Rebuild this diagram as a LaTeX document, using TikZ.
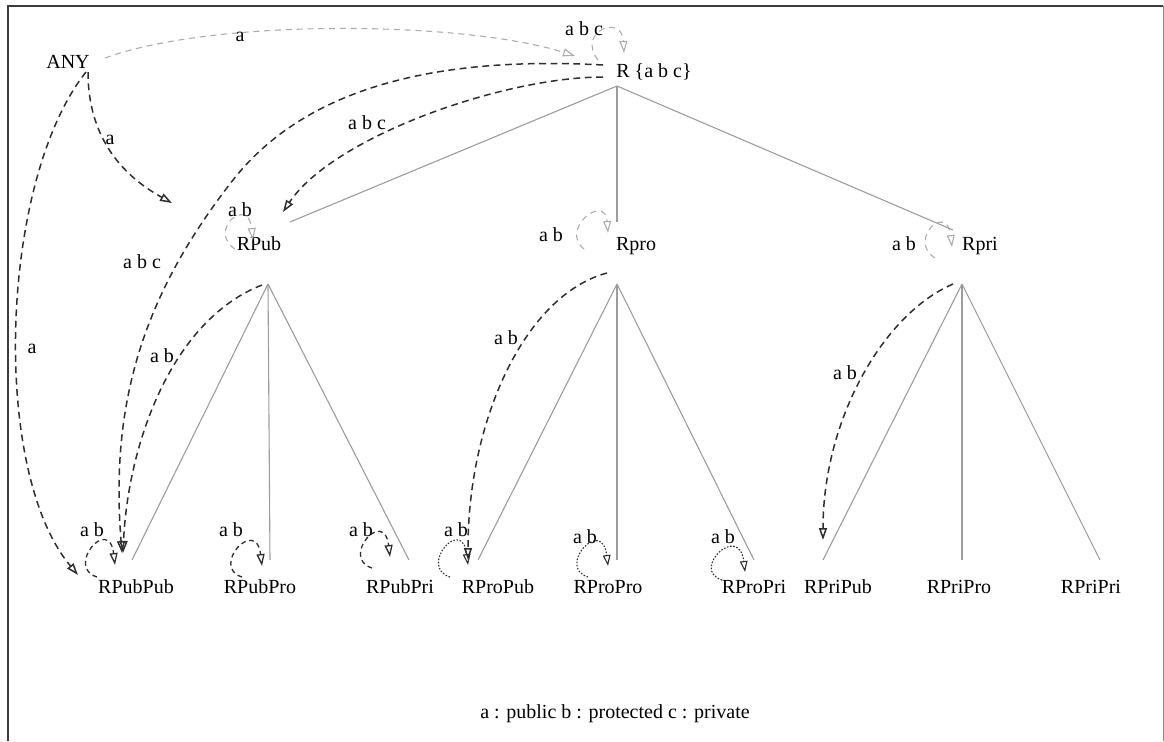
\documentclass[tikz,border=0pt]{standalone}
\usepackage{fontspec}
\setmainfont{Liberation Serif}
\usetikzlibrary{arrows.meta,calc}
\definecolor{Ink}{HTML}{2E2E2E}
\definecolor{Branch}{HTML}{9C9C9C}
\definecolor{Faint}{HTML}{ACACAC}
\definecolor{Frame}{HTML}{3C3C3C}
\definecolor{FrameSoft}{HTML}{8E8E8E}
\tikzset{
  cls/.style={inner sep=1pt,text height=1.6ex,text depth=.35ex,font=\fontsize{10}{12}\selectfont},
  lbl/.style={inner sep=0pt,font=\fontsize{10}{12}\selectfont},
  branch/.style={draw=Branch,line width=.55pt},
  inh/.style={-{Triangle[open,length=6pt,width=4pt]},draw=Ink,line width=.75pt,dash pattern=on 3.4pt off 2.3pt},
  inhsoft/.style={-{Triangle[open,length=6pt,width=4pt]},draw=Faint,line width=.55pt,dash pattern=on 3pt off 2.4pt},
  selfd/.style={inh,line width=.65pt,dash pattern=on 2.4pt off 1.8pt},
  selfp/.style={-{Triangle[open,length=5.5pt,width=3.8pt]},draw=Ink,line width=.55pt,dash pattern=on .8pt off .8pt}
}
\begin{document}
\begin{tikzpicture}[x=.5pt,y=-.5pt]
  \useasboundingbox (0,0) rectangle (1164,741);
  \draw[Frame,line width=1pt] (8,741) -- (8,6) -- (1163,6);
  \draw[FrameSoft,line width=.5pt] (1163,6) -- (1163,741);

  % classes
  \node[cls] (ANY) at (68,63) {ANY};
  \node[cls] (R) at (654,72) {R \{a b c\}};
  \node[cls] (RPub) at (259,245) {RPub};
  \node[cls] (Rpro) at (636,245) {Rpro};
  \node[cls] (Rpri) at (980,245) {Rpri};
  \node[cls] (RPubPub) at (136,588) {RPubPub};
  \node[cls] (RPubPro) at (260,588) {RPubPro};
  \node[cls] (RPubPri) at (400,588) {RPubPri};
  \node[cls] (RProPub) at (498,588) {RProPub};
  \node[cls] (RProPro) at (608,588) {RProPro};
  \node[cls] (RProPri) at (754,588) {RProPri};
  \node[cls] (RPriPub) at (838,588) {RPriPub};
  \node[cls] (RPriPro) at (959,588) {RPriPro};
  \node[cls] (RPriPri) at (1091,588) {RPriPri};

  % hierarchy
  \foreach \kid/\dx/\dy in {RPub/31/-23, Rpro/-19/-23, Rpri/-27/-15}
    \draw[branch] ($(R)+(-37,14)$) -- ($(\kid)+(\dx,\dy)$);
  \foreach \kid/\dx in {RPubPub/-4, RPubPro/10, RPubPri/9}
    \draw[branch] ($(RPub)+(9,39)$) -- ($(\kid)+(\dx,-28)$);
  \foreach \kid/\dx in {RProPub/-20, RProPro/9, RProPri/0}
    \draw[branch] ($(Rpro)+(-19,39)$) -- ($(\kid)+(\dx,-28)$);
  \foreach \kid/\dx in {RPriPub/-15, RPriPro/3, RPriPri/9}
    \draw[branch] ($(Rpri)+(-18,39)$) -- ($(\kid)+(\dx,-28)$);

  % visibility edges
  \draw[inhsoft] ($(ANY)+(37,-5)$) .. controls +(110,-40) and +(-110,-35) .. ($(R)+(-79,-16)$);
  \draw[inh] ($(R)+(-51,-7)$) .. controls +(-183,-10) and +(67,-85) .. (233,180)
    .. controls +(-90,115) and +(-12,-150) .. ($(RPubPub)+(-14,-35)$);
  \draw[inh] ($(R)+(-51,5)$) .. controls +(-100,0) and +(50,-75) .. ($(RPub)+(24,-33)$);
  \draw[inh] ($(ANY)+(20,9)$) .. controls +(0,70) and +(-45,-25) .. ($(RPub)+(-87,-42)$);
  \draw[inh] ($(ANY)+(18,9)$) .. controls +(-86,108) and +(-88,-105) .. ($(RPubPub)+(-58,-13)$);
  \draw[inh] ($(RPub)+(3,40)$) .. controls +(-90,35) and +(5,-110) .. ($(RPubPub)+(-13,-35)$);
  \draw[inh] ($(Rpro)+(-29,28)$) .. controls +(-82,22) and +(0,-140) .. ($(RProPub)+(-30,-28)$);
  \draw[inh] ($(Rpri)+(-27,39)$) .. controls +(-70,30) and +(0,-120) .. ($(RPriPub)+(-15,-48)$);

  % self loops
  \draw[inhsoft] ($(R)+(-56,-12)$) .. controls +(-22,-28) and +(-2,-40) .. ($(R)+(-30,-19)$);
  \draw[inhsoft] ($(RPub)+(-24,4)$) .. controls +(-28,-18) and +(-5,-45) .. ($(RPub)+(-6,-5)$);
  \draw[inhsoft] ($(Rpro)+(-52,4)$) .. controls +(-25,-20) and +(-3,-40) .. ($(Rpro)+(-28,-12)$);
  \draw[inhsoft] ($(Rpri)+(-45,13)$) .. controls +(-28,-18) and +(-5,-45) .. ($(Rpri)+(-28,2)$);
  \foreach \n/\sx/\sy/\tx/\ty in {RPubPub/-39/-11/-21/-23, RPubPro/-18/-11/2/-22, RPubPri/-28/-20/-10/-31}
    \draw[selfd] ($(\n)+(\sx,\sy)$) .. controls +(-32,-10) and +(-6,-50) .. ($(\n)+(\tx,\ty)$);
  \foreach \n/\sx/\sy/\tx/\ty in {RProPub/-48/-11/-30/-23, RProPro/-20/-11/0/-22, RProPri/-32/-8/-9/-16}
    \draw[selfp] ($(\n)+(\sx,\sy)$) .. controls +(-32,-10) and +(-6,-50) .. ($(\n)+(\tx,\ty)$);

  % labels
  \node[lbl] (lAnyR) at (240,37) {a};
  \node[lbl] (lAnyPub) at (110,140) {a};
  \node[lbl] (lAnyPubPub) at (32,349) {a};
  \node[lbl] (lRPub) at (367,123) {a b c};
  \node[lbl] (lRPubPub) at (142,262) {a b c};
  \node[lbl] (lPubPubPub) at (162,356) {a b};
  \node[lbl] (lProProPub) at (506,338) {a b};
  \node[lbl] (lPriPriPub) at (845,373) {a b};
  \node[lbl] (sR) at (584,29) {a b c};
  \node[lbl] (sRPub) at (240,210) {a b};
  \node[lbl] (sRpro) at (551,235) {a b};
  \node[lbl] (sRpri) at (904,244) {a b};
  \node[lbl] (sRPubPub) at (92,530) {a b};
  \node[lbl] (sRPubPro) at (231,530) {a b};
  \node[lbl] (sRPubPri) at (361,530) {a b};
  \node[lbl] (sRProPub) at (456,530) {a b};
  \node[lbl] (sRProPro) at (585,537) {a b};
  \node[lbl] (sRProPri) at (723,537) {a b};
  \node[lbl] (key) at (615,714) {a : public b : protected c : private};
\end{tikzpicture}
\end{document}
